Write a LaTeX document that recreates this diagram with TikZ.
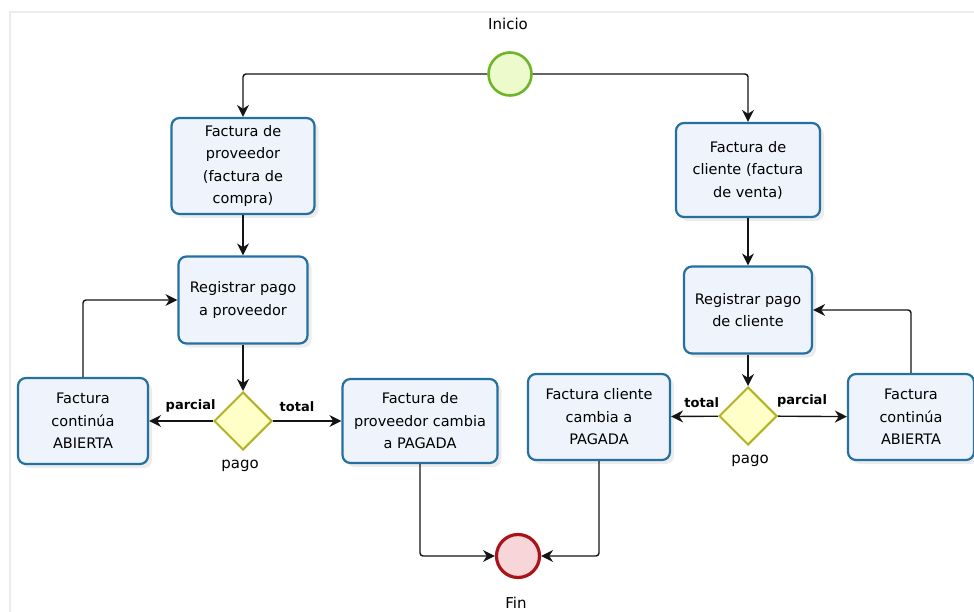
\documentclass[tikz,border=0pt]{standalone}
\usepackage{fontspec}
\setmainfont{DejaVu Sans}
\usetikzlibrary{arrows.meta,positioning,calc,shapes.geometric,shadows}
\definecolor{taskblue}{RGB}{36,112,160}
\definecolor{taskfill}{RGB}{238,243,252}
\definecolor{gateolive}{RGB}{178,178,40}
\definecolor{gatefill}{RGB}{255,255,200}
\definecolor{startgreen}{RGB}{110,180,40}
\definecolor{startfill}{RGB}{236,250,204}
\definecolor{endred}{RGB}{170,20,24}
\definecolor{endfill}{RGB}{246,214,216}
\definecolor{framegray}{RGB}{236,236,236}
\definecolor{flowgray}{RGB}{20,20,20}
\tikzset{
  task/.style={draw=taskblue,line width=2.2pt,fill=taskfill,rounded corners=8pt,align=center,font=\fontsize{14.5}{22.5}\selectfont,drop shadow={shadow xshift=4pt,shadow yshift=-4pt,opacity=.15}},
  gate/.style={diamond,draw=gateolive,line width=2pt,fill=gatefill,minimum width=58pt,minimum height=58pt,inner sep=0pt},
  event/.style={circle,minimum size=43pt,inner sep=0pt},
  flow/.style={draw=flowgray,-{Stealth[length=12pt,width=12pt]},line width=1.4pt,rounded corners=3pt},
  lbl/.style={font=\fontsize{15}{17}\selectfont},
  cond/.style={font=\fontsize{13}{15}\selectfont\bfseries}
}
\begin{document}
\begin{tikzpicture}[x=1pt,y=-1pt]
\useasboundingbox (0,0) rectangle (974,612);
\draw[framegray,line width=1.5pt] (10,612) -- (10,12) -- (974,12);
% eventos
\node[event,draw=startgreen,line width=2.6pt,fill=startfill] (inicio) at (510,74) {};
\node[lbl] (inicioLbl) at (508,24) {Inicio};
\node[event,draw=endred,line width=3.2pt,fill=endfill] (fin) at (518,556) {};
\node[lbl] (finLbl) at (516,603) {Fin};
% rama proveedor
\node[task,minimum width=143pt,minimum height=96pt] (factProv) at (243,166) {Factura de\\proveedor\\(factura de\\compra)};
\node[task,minimum width=129pt,minimum height=87pt] (regProv) at (243,300) {Registrar pago\\a proveedor};
\node[gate] (pagoProv) at (243,421) {};
\node[lbl] (pagoProvLbl) at (240,466) {pago};
\node[task,minimum width=130pt,minimum height=86pt] (abiertaProv) at (83,421) {Factura\\continúa\\ABIERTA};
\node[task,minimum width=155pt,minimum height=84pt] (pagadaProv) at (420,421) {Factura de\\proveedor cambia\\a PAGADA};
% rama cliente
\node[task,minimum width=144pt,minimum height=94pt] (factCli) at (748,170) {Factura de\\cliente (factura\\de venta)};
\node[task,minimum width=128pt,minimum height=87pt] (regCli) at (748,310) {Registrar pago\\de cliente};
\node[gate] (pagoCli) at (748,416) {};
\node[lbl] (pagoCliLbl) at (750,461) {pago};
\node[task,minimum width=142pt,minimum height=86pt] (pagadaCli) at (599,417) {Factura cliente\\cambia a\\PAGADA};
\node[task,minimum width=126pt,minimum height=86pt] (abiertaCli) at (911,417) {Factura\\continúa\\ABIERTA};
% conectores
\draw[flow] (inicio.west) -| (factProv.north);
\draw[flow] (inicio.east) -| (factCli.north);
\foreach \a/\b in {factProv/regProv,regProv/pagoProv,factCli/regCli,regCli/pagoCli}
  \draw[flow] (\a) -- (\b);
\draw[flow] (pagoProv) -- node[cond,above=5pt,pos=.35] {parcial} (abiertaProv);
\draw[flow] (pagoProv) -- node[cond,above=5pt,pos=.35] {total} (pagadaProv);
\draw[flow] (pagoCli) -- node[cond,above=5pt,pos=.35] {total} (pagadaCli);
\draw[flow] (pagoCli) -- node[cond,above=5pt,pos=.35] {parcial} (abiertaCli);
\draw[flow] (abiertaProv.north) |- (regProv.west);
\draw[flow] (abiertaCli.north) |- (regCli.east);
\draw[flow] (pagadaProv.south) |- (fin.west);
\draw[flow] (pagadaCli.south) |- (fin.east);
\end{tikzpicture}
\end{document}
